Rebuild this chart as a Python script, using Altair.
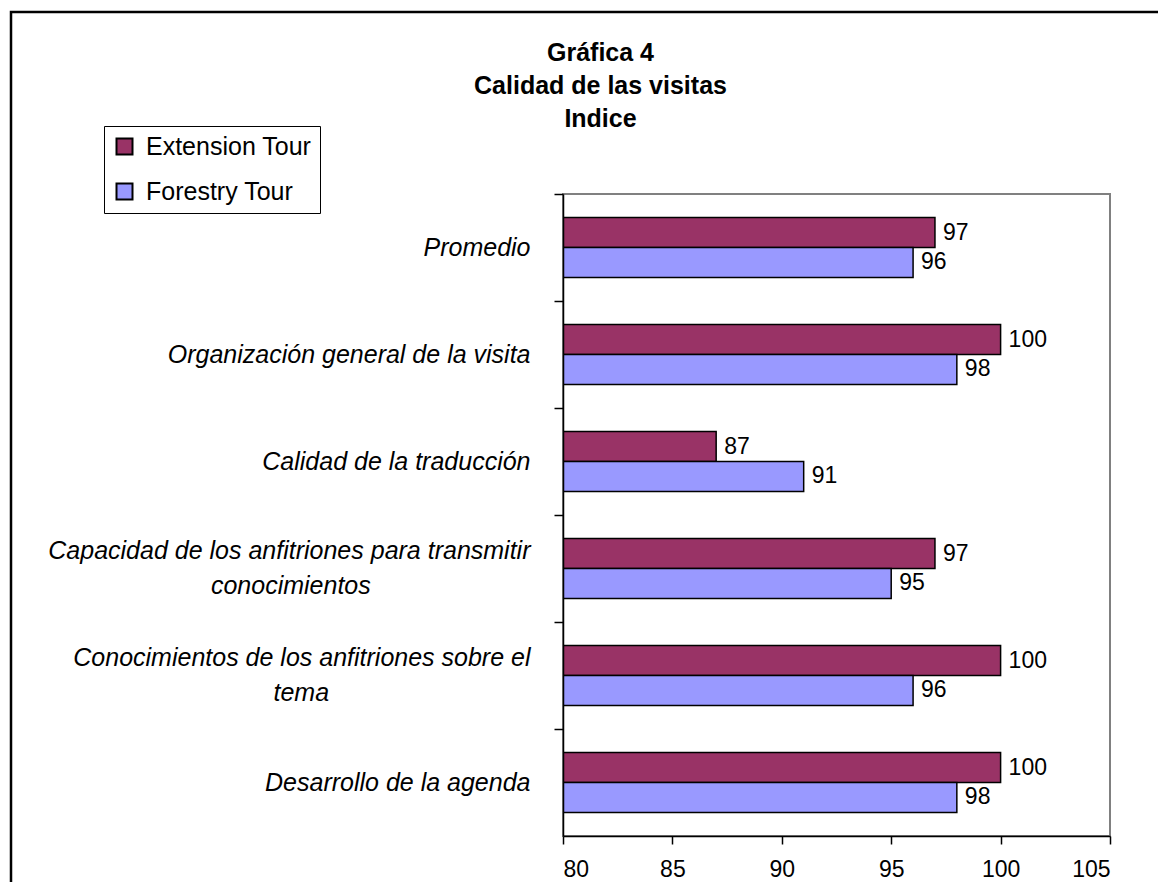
import altair as alt
import pandas as pd

# ---- data ----
category_lines = [
    ["Promedio"],
    ["Organización general de la visita"],
    ["Calidad de la traducción"],
    ["Capacidad de los anfitriones para transmitir", "conocimientos"],
    ["Conocimientos de los anfitriones sobre el", "tema"],
    ["Desarrollo de la agenda"],
]
series_names = ["Extension Tour", "Forestry Tour"]
extension_tour = [97, 100, 87, 97, 100, 100]
forestry_tour = [96, 98, 91, 95, 96, 98]
x_ticks = [80, 85, 90, 95, 100, 105]
title_lines = ["Gráfica 4", "Calidad de las visitas", "Indice"]

# ---- helpers: centre the second line of a wrapped label (Arial metrics) ----
ARIAL = {
    "a": 556, "b": 556, "c": 500, "d": 556, "e": 556, "f": 278, "g": 556, "h": 556,
    "i": 222, "j": 222, "k": 500, "l": 222, "m": 833, "n": 556, "o": 556, "p": 556,
    "q": 556, "r": 333, "s": 500, "t": 278, "u": 556, "v": 500, "w": 722, "x": 500,
    "y": 500, "z": 500, " ": 278, "C": 722, "P": 667, "O": 778, "D": 722, "ó": 556,
}


def text_em(s):
    return sum(ARIAL.get(ch, 556) for ch in s) / 1000.0


def make_label(lines):
    if len(lines) == 1:
        return lines[0]
    w1, w2 = text_em(lines[0]), text_em(lines[1])
    n = int(round((w1 - w2) / 2 / 0.278))
    # non-breaking spaces keep the short line centred under the long one
    return lines[0] + "\n" + lines[1] + "\u00a0" * n + "\u200b"


categories = [make_label(l) for l in category_lines]

rows = []
for cat, e, f in zip(categories, extension_tour, forestry_tour):
    rows.append({"categoria": cat, "serie": series_names[0], "valor": e})
    rows.append({"categoria": cat, "serie": series_names[1], "valor": f})
df = pd.DataFrame(rows)

FONT = "Liberation Sans"
colors = ["#993366", "#9999FF"]

multi_line_test = "indexof(datum.value, '\\n') >= 0"
STEP = 642 / 6.0

y_enc = alt.Y(
    "categoria:N",
    sort=categories,
    scale=alt.Scale(paddingInner=0.44, paddingOuter=0.22),
    axis=alt.Axis(
        title=None,
        labelExpr="split(datum.label, '\\n')",
        labelFont=FONT,
        labelFontSize=25,
        labelFontStyle="italic",
        labelColor="black",
        labelLineHeight=35,
        labelBaseline={
            "condition": {"test": multi_line_test, "value": "line-bottom"},
            "value": "middle",
        },
        labelPadding=24,
        labelLimit=700,
        tickOffset=-STEP / 2,
        labelOffset=STEP / 2,
        tickSize=9,
        tickColor="black",
        tickWidth=1.5,
        domainColor="black",
        domainWidth=1.5,
        grid=False,
        zindex=1,
    ),
)
yoff_enc = alt.YOffset("serie:N", sort=series_names)
x_enc = alt.X(
    "valor:Q",
    scale=alt.Scale(domain=[80, 105], nice=False, zero=False),
    axis=alt.Axis(
        title=None,
        values=x_ticks,
        labelFont=FONT,
        labelFontSize=23,
        labelColor="black",
        labelPadding=14,
        tickSize=8,
        tickColor="black",
        tickWidth=1.5,
        domainColor="black",
        domainWidth=1.5,
        grid=False,
        zindex=1,
    ),
)

bars = alt.Chart(df).mark_bar(stroke="black", strokeWidth=1.5, clip=True).encode(
    y=y_enc,
    yOffset=yoff_enc,
    x=x_enc,
    color=alt.Color(
        "serie:N",
        sort=series_names,
        scale=alt.Scale(domain=series_names, range=colors),
        legend=alt.Legend(
            title=None,
            orient="none",
            legendX=-459,
            legendY=-68,
            fillColor="white",
            strokeColor="black",
            padding=8,
            symbolType="square",
            symbolSize=256,
            symbolStrokeColor="black",
            symbolStrokeWidth=2,
            symbolOpacity=1,
            labelFont=FONT,
            labelFontSize=25,
            labelColor="black",
            labelOffset=9,
            labelLimit=400,
            rowPadding=19,
        ),
    ),
)

labels = alt.Chart(df).mark_text(
    align="left", baseline="middle", dx=8, font=FONT, fontSize=23, color="black"
).encode(
    y=alt.Y("categoria:N", sort=categories),
    yOffset=alt.YOffset("serie:N", sort=series_names),
    x=alt.X("valor:Q"),
    text=alt.Text("valor:Q"),
)

frame = alt.Chart(pd.DataFrame({"k": [0]})).mark_rect(
    fill="transparent", stroke="black", strokeWidth=2.5
).encode(
    x=alt.value(-552), x2=alt.value(700), y=alt.value(-182), y2=alt.value(800)
)

chart = (
    alt.layer(frame, bars, labels)
    .properties(
        width=547,
        height=642,
        padding={"left": 555, "top": 186, "right": 48, "bottom": 46},
        autosize=alt.AutoSizeParams(type="none"),
        title=alt.TitleParams(
            text=title_lines,
            font=FONT,
            fontSize=25,
            fontWeight="bold",
            color="black",
            anchor="middle",
            frame="group",
            baseline="bottom",
            dx=-236,
            dy=146,
            lineHeight=33,
            offset=0,
        ),
    )
    .configure_view(stroke="#808080", strokeWidth=2)
)

chart.save("out.html", embed_options={"renderer": "svg", "actions": False})
